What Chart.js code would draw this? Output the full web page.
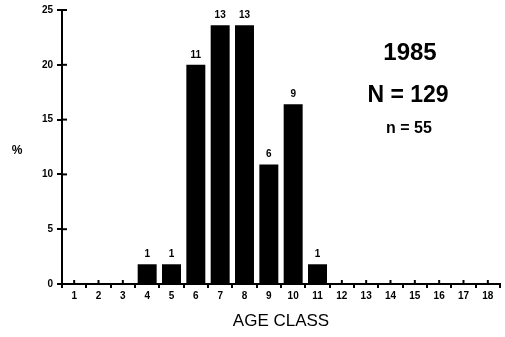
<!DOCTYPE html>
<html>
<head>
<meta charset="utf-8">
<script src="https://cdn.jsdelivr.net/npm/chart.js@4"></script>
<style>
html,body{margin:0;padding:0;background:#fff;}
#wrap{width:505px;height:337px;position:relative;}
</style>
</head>
<body>
<div id="wrap"><canvas id="c" width="505" height="337"></canvas></div>
<script>
const ageClasses = ['1','2','3','4','5','6','7','8','9','10','11','12','13','14','15','16','17','18'];
const counts = [0,0,0,1,1,11,13,13,6,9,1,0,0,0,0,0,0,0];
const percents = [0,0,0,1.8,1.8,20.0,23.6,23.6,10.9,16.4,1.8,0,0,0,0,0,0,0];
const yTicks = [0,5,10,15,20,25];
const annotations = ['1985','N = 129','n = 55'];

const FONT = "'Liberation Sans', Arial, Helvetica, sans-serif";

const decor = {
  id: 'decor',
  afterDraw(chart) {
    const ctx = chart.ctx;
    const ca = chart.chartArea;
    const xs = chart.scales.x, ys = chart.scales.y;
    ctx.save();
    ctx.strokeStyle = '#000';
    ctx.lineWidth = 2;
    yTicks.forEach(v => {
      const py = ys.getPixelForValue(v);
      ctx.beginPath(); ctx.moveTo(ca.left, py); ctx.lineTo(ca.left + 5, py); ctx.stroke();
    });
    ageClasses.forEach((_, i) => {
      const px = xs.getPixelForValue(i);
      ctx.beginPath(); ctx.moveTo(px, ca.bottom); ctx.lineTo(px, ca.bottom - 4); ctx.stroke();
    });
    const meta = chart.getDatasetMeta(0);
    ctx.fillStyle = '#000';
    ctx.font = 'bold 10px ' + FONT;
    ctx.textAlign = 'center';
    ctx.textBaseline = 'bottom';
    meta.data.forEach((bar, i) => {
      if (counts[i] > 0) ctx.fillText(String(counts[i]), bar.x, bar.y - 5);
    });
    ctx.font = 'bold 12px ' + FONT;
    ctx.textBaseline = 'middle';
    ctx.fillText('%', 17, (ca.top + ca.bottom) / 2 + 4);
    ctx.font = 'bold 24px ' + FONT;
    ctx.fillText(annotations[0], 410, 53);
    ctx.font = 'bold 23px ' + FONT;
    ctx.fillText(annotations[1], 408, 96);
    ctx.font = 'bold 16px ' + FONT;
    ctx.fillText(annotations[2], 409, 129);
    ctx.restore();
  }
};

new Chart(document.getElementById('c'), {
  type: 'bar',
  data: {
    labels: ageClasses,
    datasets: [{
      data: percents,
      backgroundColor: '#000',
      borderWidth: 0,
      barPercentage: 0.78,
      categoryPercentage: 1.0
    }]
  },
  options: {
    responsive: false,
    animation: false,
    devicePixelRatio: 1,
    layout: { padding: { top: 10, right: 5, left: 0, bottom: 0 } },
    plugins: { legend: { display: false }, tooltip: { enabled: false } },
    scales: {
      x: {
        grid: { drawOnChartArea: false, tickLength: 4, color: '#000', lineWidth: 2 },
        border: { color: '#000', width: 2 },
        ticks: { color: '#000', font: { family: FONT, size: 10, weight: 'bold' }, padding: 2, maxRotation: 0, autoSkip: false },
        title: { display: true, text: 'AGE CLASS', color: '#000', font: { family: FONT, size: 17 }, padding: { top: 2, bottom: 5 } },
        afterFit(s) { s.height = 53; }
      },
      y: {
        min: 0, max: 25,
        grid: { drawOnChartArea: false, tickLength: 5, color: '#000', lineWidth: 2 },
        border: { color: '#000', width: 2 },
        ticks: { stepSize: 5, color: '#000', font: { family: FONT, size: 10, weight: 'bold' }, padding: 4 },
        afterFit(s) { s.width = 62; }
      }
    }
  },
  plugins: [decor]
});
</script>
</body>
</html>
